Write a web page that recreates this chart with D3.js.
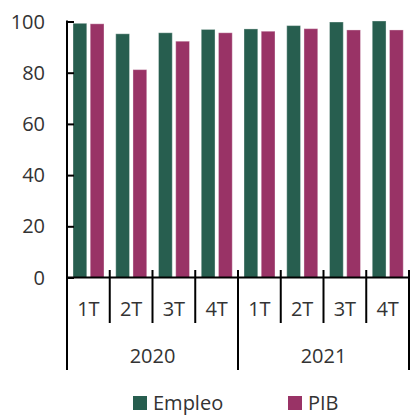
<!DOCTYPE html>
<html><head><meta charset="utf-8">
<script src="https://cdn.jsdelivr.net/npm/d3@7"></script>
<style>html,body{margin:0;padding:0;background:#fff;}svg{display:block;}</style>
</head><body>
<svg id="c" width="410" height="416"></svg>
<script>
const years = ["2020", "2021"];
const quarters = ["1T", "2T", "3T", "4T"];
const series = ["Empleo", "PIB"];
const empleo = [99.3, 95.2, 95.6, 96.9, 97.1, 98.4, 99.8, 100.2];
const pib = [99.1, 81.2, 92.3, 95.6, 96.2, 97.2, 96.7, 96.7];
const yTicks = [0, 20, 40, 60, 80, 100];
const colors = ["#275e4f", "#993366"];

(function () {
const svg = d3.select("#c");
const mLeft = 67, mRight = 409, mTop = 21.5, mBottom = 277.5;
const font = "'Open Sans', sans-serif";
const fs = 20;
const txt = "#333";

const cats = [];
years.forEach(yy => quarters.forEach(q => cats.push(yy + "-" + q)));
const x = d3.scaleBand().domain(cats).range([mLeft, mRight]);
const xi = d3.scaleBand().domain(series).range([6, 37]).paddingInner(0.2);
const y = d3.scaleLinear().domain([0, 100]).range([mBottom, mTop]);

const data = [];
cats.forEach((c, i) => {
  data.push({c, s: "Empleo", v: empleo[i]});
  data.push({c, s: "PIB", v: pib[i]});
});

svg.append("g").selectAll("rect").data(data).join("rect")
  .attr("x", d => x(d.c) + xi(d.s))
  .attr("width", xi.bandwidth())
  .attr("y", d => y(d.v))
  .attr("height", d => y(0) - y(d.v))
  .attr("fill", d => colors[series.indexOf(d.s)])
  .attr("stroke", "rgba(255,255,255,0.35)")
  .attr("stroke-width", 1);

const yAxis = d3.axisRight(y).tickValues(yTicks).tickSize(7).tickFormat("");
const gy = svg.append("g").attr("transform", `translate(${mLeft},0)`).call(yAxis);
gy.select(".domain").remove();
gy.selectAll(".tick line").attr("stroke", "#000").attr("stroke-width", 2);
svg.append("g").selectAll("text").data(yTicks).join("text")
  .attr("x", 45).attr("y", d => y(d)).attr("dy", "0.35em")
  .attr("text-anchor", "end").attr("font-family", font).attr("font-size", fs)
  .attr("fill", txt).text(d => d);

svg.append("line").attr("x1", mLeft).attr("x2", mLeft).attr("y1", mTop - 1).attr("y2", 370)
  .attr("stroke", "#000").attr("stroke-width", 2);
svg.append("line").attr("x1", mLeft).attr("x2", 410).attr("y1", mBottom).attr("y2", mBottom)
  .attr("stroke", "#000").attr("stroke-width", 2);

const bounds = cats.map((c, i) => ({pos: x(c) + x.bandwidth(), i}));
svg.append("g").selectAll("line").data(bounds).join("line")
  .attr("x1", d => d.pos).attr("x2", d => d.pos)
  .attr("y1", 270)
  .attr("y2", d => ((d.i + 1) % quarters.length === 0) ? 370 : 323)
  .attr("stroke", "#000").attr("stroke-width", 2);

svg.append("g").selectAll("text").data(cats).join("text")
  .attr("x", d => x(d) + x.bandwidth() / 2).attr("y", 309).attr("dy", "0.35em")
  .attr("text-anchor", "middle").attr("font-family", font).attr("font-size", fs)
  .attr("fill", txt).text(d => d.split("-")[1]);

svg.append("g").selectAll("text").data(years).join("text")
  .attr("x", d => (x(d + "-" + quarters[0]) + x(d + "-" + quarters[3]) + x.bandwidth()) / 2)
  .attr("y", 356).attr("dy", "0.35em")
  .attr("text-anchor", "middle").attr("font-family", font).attr("font-size", fs)
  .attr("fill", txt).text(d => d);

const legX = [133, 288];
const lg = svg.append("g").selectAll("g").data(series).join("g")
  .attr("transform", (d, i) => `translate(${legX[i]},396)`);
lg.append("rect").attr("width", 14).attr("height", 14).attr("fill", (d, i) => colors[i]);
lg.append("text").attr("x", 20).attr("y", 7).attr("dy", "0.35em")
  .attr("font-family", font).attr("font-size", fs).attr("fill", txt).text(d => d);
})();
</script>
</body></html>
